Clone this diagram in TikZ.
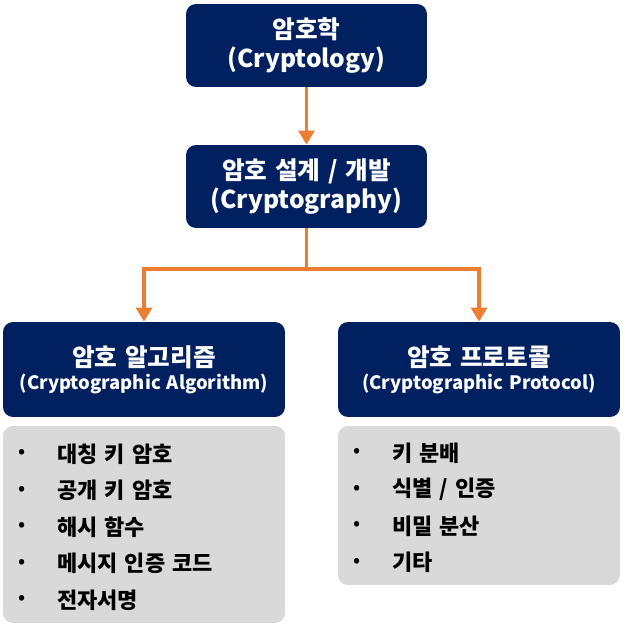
\documentclass[tikz,border=0pt]{standalone}
\usepackage{fontspec}
\setmainfont{Noto Sans CJK KR}[WordSpace=1.4]
\usetikzlibrary{arrows.meta}
\definecolor{navy}{HTML}{002060}
\definecolor{flowor}{HTML}{ED7D31}
\definecolor{listgray}{HTML}{D9D9D9}
\begin{document}
\begin{tikzpicture}[x=0.02cm,y=-0.02cm,
  topbox/.style={fill=navy,text=white,rounded corners=0.2cm,minimum width=4.82cm,minimum height=1.66cm,align=center,font=\bfseries\fontsize{14}{17}\selectfont},
  subbox/.style={fill=navy,text=white,rounded corners=0.2cm,minimum width=5.64cm,minimum height=1.9cm,align=center},
  listbox/.style={fill=listgray,rounded corners=0.2cm,minimum width=5.64cm,inner sep=0pt},
  dot/.style={inner sep=0pt,font=\fontsize{12}{14}\selectfont},
  itemtext/.style={anchor=west,inner sep=0pt,font=\bfseries\fontsize{12.5}{14}\selectfont},
  flow/.style={draw=flowor,line width=2.2pt,-{Triangle[width=9pt,length=8pt]}}]
  \useasboundingbox (0,0) rectangle (623,629);
  \node[topbox] (cryptology) at (306.5,45.5) {암호학\\(Cryptology)};
  \node[topbox] (cryptography) at (306.5,186.5) {암호 설계 / 개발\\(Cryptography)};
  \node[subbox] (algorithm) at (144,369.5) {{\bfseries\fontsize{14}{15}\selectfont 암호 알고리즘}\\[1pt]{\bfseries\fontsize{10.5}{15}\selectfont (Cryptographic Algorithm)}};
  \node[subbox] (protocol) at (479,369.5) {{\bfseries\fontsize{14}{15}\selectfont 암호 프로토콜}\\[1pt]{\bfseries\fontsize{10.5}{15}\selectfont (Cryptographic Protocol)}};
  \node[listbox,minimum height=3.94cm] (alglist) at (144,524.5) {};
  \node[listbox,minimum height=3.18cm] (protlist) at (479,505.5) {};
  \foreach \txt [count=\i] in {대칭 키 암호,공개 키 암호,해시 함수,메시지 인증 코드,전자서명}{
    \node[dot] (algdot\i) at (22,417.5+36.5*\i) {•};
    \node[itemtext] (algitem\i) at (57,417.5+36.5*\i) {\txt};
  }
  \foreach \txt [count=\i] in {키 분배,식별 / 인증,비밀 분산,기타}{
    \node[dot] (protdot\i) at (357,416.5+36.5*\i) {•};
    \node[itemtext] (protitem\i) at (392,416.5+36.5*\i) {\txt};
  }
  \coordinate (split) at (306.5,269);
  \draw[flow] (cryptology) -- (cryptography);
  \draw[flow] (cryptography.south) -- (split) -| (algorithm.north);
  \draw[flow] (split) -| (protocol.north);
\end{tikzpicture}
\end{document}
